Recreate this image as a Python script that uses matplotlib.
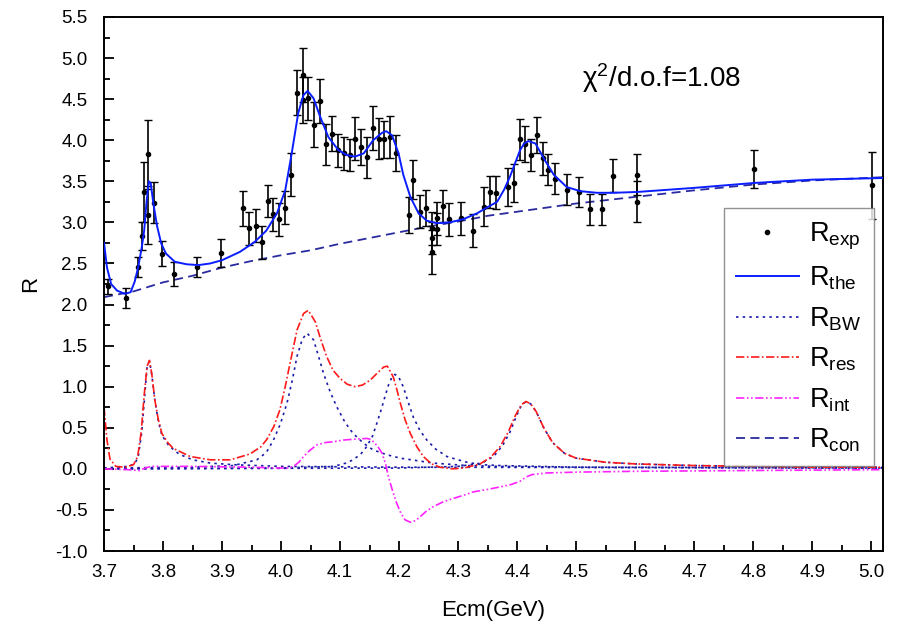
import matplotlib
matplotlib.use("Agg")
import matplotlib.pyplot as plt
from matplotlib.lines import Line2D
from matplotlib.ticker import MultipleLocator

plt.rcParams['font.family'] = ['Liberation Sans', 'DejaVu Sans']
plt.rcParams['mathtext.fontset'] = 'custom'
plt.rcParams['mathtext.rm'] = 'Liberation Sans'
plt.rcParams['mathtext.it'] = 'Liberation Sans:italic'

# experimental points
exp_x = [3.706, 3.738, 3.757, 3.764, 3.768, 3.774, 3.774, 3.784, 3.798, 3.819,
         3.857, 3.898, 3.936, 3.946, 3.957, 3.967, 3.977, 3.987, 3.997, 4.007,
         4.017, 4.027, 4.037, 4.037, 4.046, 4.056, 4.066, 4.076, 4.086, 4.096,
         4.106, 4.116, 4.125, 4.136, 4.145, 4.155, 4.166, 4.175, 4.185, 4.194,
         4.216, 4.224, 4.236, 4.246, 4.255, 4.255, 4.255, 4.265, 4.265, 4.275,
         4.285, 4.305, 4.325, 4.344, 4.354, 4.364, 4.384, 4.394, 4.404, 4.414,
         4.423, 4.434, 4.444, 4.453, 4.464, 4.484, 4.504, 4.524, 4.544, 4.563,
         4.603, 4.603, 4.802, 5.001]
exp_y = [2.22, 2.08, 2.46, 2.83, 3.37, 3.83, 3.09, 3.24, 2.62, 2.37,
         2.46, 2.63, 3.17, 2.93, 2.96, 2.76, 3.26, 3.10, 3.04, 3.18,
         3.58, 4.58, 4.79, 4.49, 4.51, 4.19, 4.48, 3.95, 4.08, 3.88,
         3.84, 3.82, 4.02, 3.92, 3.79, 4.15, 4.02, 4.01, 4.04, 3.84,
         3.09, 3.52, 3.13, 3.17, 2.93, 2.81, 2.64, 3.05, 2.92, 3.20,
         3.04, 3.05, 2.90, 3.19, 3.37, 3.36, 3.43, 3.48, 4.01, 3.95,
         3.82, 4.06, 3.78, 3.64, 3.53, 3.40, 3.37, 3.16, 3.16, 3.57,
         3.58, 3.25, 3.65, 3.45]
exp_err = [0.09, 0.12, 0.12, 0.17, 0.37, 0.42, 0.35, 0.25, 0.15, 0.15,
           0.12, 0.17, 0.21, 0.20, 0.20, 0.20, 0.19, 0.20, 0.20, 0.20,
           0.26, 0.27, 0.33, 0.28, 0.26, 0.27, 0.27, 0.25, 0.21, 0.20,
           0.20, 0.20, 0.26, 0.22, 0.25, 0.27, 0.25, 0.23, 0.26, 0.22,
           0.22, 0.24, 0.20, 0.22, 0.20, 0.20, 0.27, 0.20, 0.20, 0.20,
           0.20, 0.20, 0.20, 0.24, 0.20, 0.20, 0.23, 0.23, 0.25, 0.22,
           0.19, 0.22, 0.20, 0.19, 0.19, 0.19, 0.18, 0.19, 0.19, 0.20,
           0.25, 0.25, 0.23, 0.41]

# theory curve
the_x = [3.700, 3.705, 3.712, 3.722, 3.735, 3.745, 3.752, 3.758, 3.764, 3.768,
         3.772, 3.776, 3.779, 3.784, 3.790, 3.797, 3.805, 3.820, 3.840, 3.860,
         3.880, 3.900, 3.930, 3.955, 3.975, 3.993, 4.007, 4.018, 4.029, 4.038,
         4.045, 4.055, 4.066, 4.080, 4.097, 4.111, 4.125, 4.140, 4.156, 4.171,
         4.178, 4.188, 4.199, 4.207, 4.219, 4.233, 4.247, 4.264, 4.286, 4.309,
         4.332, 4.351, 4.366, 4.378, 4.388, 4.397, 4.405, 4.412, 4.419, 4.431,
         4.445, 4.462, 4.484, 4.507, 4.535, 4.563, 4.603, 4.700, 4.802, 4.900,
         5.020]
the_y = [2.75, 2.45, 2.25, 2.17, 2.13, 2.15, 2.28, 2.46, 2.70, 2.90,
         3.25, 3.50, 3.48, 3.21, 2.95, 2.74, 2.62, 2.52, 2.49, 2.48,
         2.50, 2.54, 2.64, 2.76, 2.90, 3.11, 3.39, 3.84, 4.33, 4.55,
         4.60, 4.51, 4.29, 4.04, 3.88, 3.82, 3.80, 3.84, 4.00, 4.09,
         4.11, 4.06, 3.84, 3.58, 3.31, 3.11, 3.02, 2.99, 3.00, 3.04,
         3.11, 3.19, 3.25, 3.40, 3.56, 3.73, 3.88, 3.96, 3.99, 3.96,
         3.78, 3.58, 3.43, 3.38, 3.36, 3.36, 3.37, 3.42, 3.48, 3.52,
         3.54]

# continuum
con_x = [3.70, 3.75, 3.80, 3.85, 3.90, 3.95, 4.00, 4.05, 4.10, 4.15, 4.20, 4.25,
         4.30, 4.35, 4.40, 4.45, 4.50, 4.55, 4.60, 4.70, 4.80, 4.90, 5.02]
con_y = [2.09, 2.16, 2.27, 2.35, 2.45, 2.53, 2.60, 2.66, 2.74, 2.81, 2.88, 2.95,
         3.01, 3.08, 3.13, 3.18, 3.23, 3.27, 3.31, 3.39, 3.46, 3.51, 3.55]

# resonance sum
res_x = [3.700, 3.705, 3.710, 3.720, 3.735, 3.750, 3.757, 3.763, 3.768, 3.773,
         3.777, 3.781, 3.786, 3.792, 3.798, 3.808, 3.817, 3.846, 3.880, 3.914,
         3.947, 3.966, 3.976, 3.988, 3.998, 4.007, 4.015, 4.027, 4.038, 4.046,
         4.058, 4.067, 4.077, 4.088, 4.100, 4.112, 4.125, 4.138, 4.151, 4.165,
         4.174, 4.180, 4.190, 4.196, 4.202, 4.210, 4.219, 4.230, 4.241, 4.255,
         4.269, 4.290, 4.310, 4.337, 4.355, 4.371, 4.385, 4.397, 4.407, 4.415,
         4.423, 4.432, 4.445, 4.460, 4.480, 4.500, 4.550, 4.600, 4.700, 4.800,
         4.900, 5.020]
res_y = [0.75, 0.35, 0.12, 0.03, 0.02, 0.05, 0.15, 0.45, 0.90, 1.25,
         1.32, 1.15, 0.84, 0.60, 0.43, 0.32, 0.25, 0.15, 0.11, 0.11,
         0.18, 0.27, 0.36, 0.52, 0.72, 1.00, 1.28, 1.69, 1.89, 1.93,
         1.79, 1.58, 1.37, 1.20, 1.10, 1.03, 1.00, 1.02, 1.08, 1.18,
         1.24, 1.25, 1.12, 0.97, 0.80, 0.60, 0.43, 0.27, 0.15, 0.06,
         0.02, 0.00, 0.01, 0.06, 0.14, 0.27, 0.45, 0.65, 0.78, 0.82,
         0.79, 0.70, 0.50, 0.32, 0.19, 0.13, 0.08, 0.06, 0.04, 0.03,
         0.02, 0.02]

# individual Breit-Wigner terms
bw1_x = [3.700, 3.740, 3.752, 3.758, 3.764, 3.769, 3.773, 3.777, 3.781, 3.786,
         3.792, 3.798, 3.810, 3.827, 3.850, 3.880, 3.920, 4.000, 4.200, 5.020]
bw1_y = [0.01, 0.03, 0.06, 0.15, 0.45, 0.90, 1.25, 1.31, 1.14, 0.84,
         0.58, 0.41, 0.28, 0.18, 0.11, 0.07, 0.05, 0.03, 0.02, 0.01]
bw2_x = [3.700, 3.850, 3.919, 3.959, 3.975, 3.987, 3.999, 4.010, 4.019, 4.027,
         4.036, 4.044, 4.055, 4.063, 4.072, 4.083, 4.094, 4.108, 4.122, 4.140,
         4.156, 4.180, 4.202, 4.230, 4.258, 4.315, 4.371, 4.500, 5.020]
bw2_y = [0.01, 0.02, 0.04, 0.11, 0.20, 0.35, 0.55, 0.80, 1.08, 1.37,
         1.58, 1.65, 1.57, 1.38, 1.16, 0.94, 0.76, 0.57, 0.43, 0.31,
         0.23, 0.17, 0.13, 0.10, 0.07, 0.04, 0.03, 0.02, 0.01]
bw3_x = [3.700, 4.000, 4.089, 4.110, 4.122, 4.135, 4.145, 4.155, 4.162, 4.170,
         4.176, 4.182, 4.188, 4.193, 4.199, 4.207, 4.215, 4.224, 4.235, 4.247,
         4.262, 4.281, 4.300, 4.315, 4.340, 4.371, 4.500, 5.020]
bw3_y = [0.00, 0.01, 0.03, 0.07, 0.11, 0.18, 0.27, 0.40, 0.55, 0.73,
         0.88, 1.02, 1.12, 1.15, 1.12, 1.00, 0.82, 0.63, 0.47, 0.35,
         0.24, 0.15, 0.11, 0.08, 0.05, 0.04, 0.02, 0.01]
bw4_x = [3.700, 4.200, 4.300, 4.340, 4.360, 4.375, 4.388, 4.398, 4.407, 4.415,
         4.423, 4.432, 4.445, 4.460, 4.480, 4.500, 4.550, 4.600, 4.700, 4.800,
         5.020]
bw4_y = [0.00, 0.01, 0.03, 0.07, 0.15, 0.28, 0.45, 0.63, 0.77, 0.82,
         0.79, 0.70, 0.50, 0.32, 0.19, 0.13, 0.08, 0.06, 0.04, 0.03,
         0.02]

# interference
int_x = [3.700, 3.740, 3.760, 3.770, 3.780, 3.850, 3.950, 4.000, 4.012, 4.021,
         4.030, 4.038, 4.048, 4.060, 4.075, 4.089, 4.105, 4.122, 4.145, 4.152,
         4.158, 4.165, 4.171, 4.177, 4.182, 4.189, 4.196, 4.203, 4.210, 4.219,
         4.228, 4.236, 4.247, 4.258, 4.275, 4.292, 4.310, 4.326, 4.350, 4.371,
         4.390, 4.405, 4.415, 4.425, 4.450, 4.500, 4.600, 4.800, 5.020]
int_y = [0.00, -0.01, -0.02, 0.01, 0.03, 0.03, 0.02, 0.01, 0.01, 0.03,
         0.08, 0.15, 0.22, 0.29, 0.32, 0.33, 0.35, 0.36, 0.37, 0.36,
         0.32, 0.26, 0.19, 0.06, -0.10, -0.27, -0.42, -0.54, -0.62, -0.65,
         -0.63, -0.58, -0.51, -0.46, -0.40, -0.36, -0.32, -0.28, -0.25, -0.22,
         -0.19, -0.15, -0.10, -0.07, -0.05, -0.04, -0.03, -0.02, -0.01]

fig = plt.figure(figsize=(9, 6.29), dpi=100)
ax = fig.add_axes([0.1156, 0.124, 0.8656, 0.849])

ax.errorbar(exp_x, exp_y, yerr=exp_err, fmt='o', color='black', ms=3,
            elinewidth=1.2, capsize=3, capthick=1.0, zorder=3)
h_exp = Line2D([], [], linestyle='none', marker='o', ms=3, color='black')
h_the, = ax.plot(the_x, the_y, '-', color='#0a1eff', lw=1.4, zorder=4)
h_bw = None
for bx, by in [(bw1_x, bw1_y), (bw2_x, bw2_y), (bw3_x, bw3_y), (bw4_x, bw4_y)]:
    ln, = ax.plot(bx, by, color='#1a1aa8', lw=1.2, linestyle=(0, (1.5, 2.5)))
    if h_bw is None:
        h_bw = ln
h_res, = ax.plot(res_x, res_y, color='#ff1a1a', lw=1.2, linestyle=(0, (5, 1.5, 1, 1.5)))
h_int, = ax.plot(int_x, int_y, color='#ff22ff', lw=1.2,
                 linestyle=(0, (5, 1.5, 1, 1.5, 1, 1.5)))
h_con, = ax.plot(con_x, con_y, color='#2a2aa0', lw=1.3, linestyle=(0, (5, 3)))

ax.set_xlim(3.70, 5.02)
ax.set_ylim(-1.0, 5.5)
ax.xaxis.set_major_locator(MultipleLocator(0.1))
ax.xaxis.set_minor_locator(MultipleLocator(0.05))
ax.yaxis.set_major_locator(MultipleLocator(0.5))
ax.yaxis.set_minor_locator(MultipleLocator(0.25))
ax.tick_params(which='both', direction='in', top=False, right=False, labelsize=13.5, width=1.3)
ax.tick_params(which='major', length=7)
ax.tick_params(which='minor', length=4)
ax.tick_params(axis='x', pad=9)
ax.tick_params(axis='y', pad=12)
ax.set_xticklabels([f'{v:.1f}' for v in ax.get_xticks()])
ax.set_yticklabels([f'{v:.1f}' for v in ax.get_yticks()])
for s in ax.spines.values():
    s.set_linewidth(1.4)

ax.set_xlabel('Ecm(GeV)', fontsize=16, labelpad=14)
ax.set_ylabel('R', fontsize=16, labelpad=10)

ax.text(4.51, 4.76, 'χ$^2$/d.o.f=1.08', fontsize=20, va='center')

leg = ax.legend([h_exp, h_the, h_bw, h_res, h_int, h_con],
                [r'R$_{\mathrm{exp}}$', r'R$_{\mathrm{the}}$', r'R$_{\mathrm{BW}}$',
                 r'R$_{\mathrm{res}}$', r'R$_{\mathrm{int}}$', r'R$_{\mathrm{con}}$'],
                loc='upper left', bbox_to_anchor=(0.796, 0.642), borderaxespad=0,
                fontsize=19.5, frameon=True, fancybox=False, edgecolor='#777777',
                handlelength=2.3, handletextpad=0.4, labelspacing=0.48, borderpad=0.45)
leg.get_frame().set_linewidth(1.0)

fig.savefig('out.png', dpi=100)
